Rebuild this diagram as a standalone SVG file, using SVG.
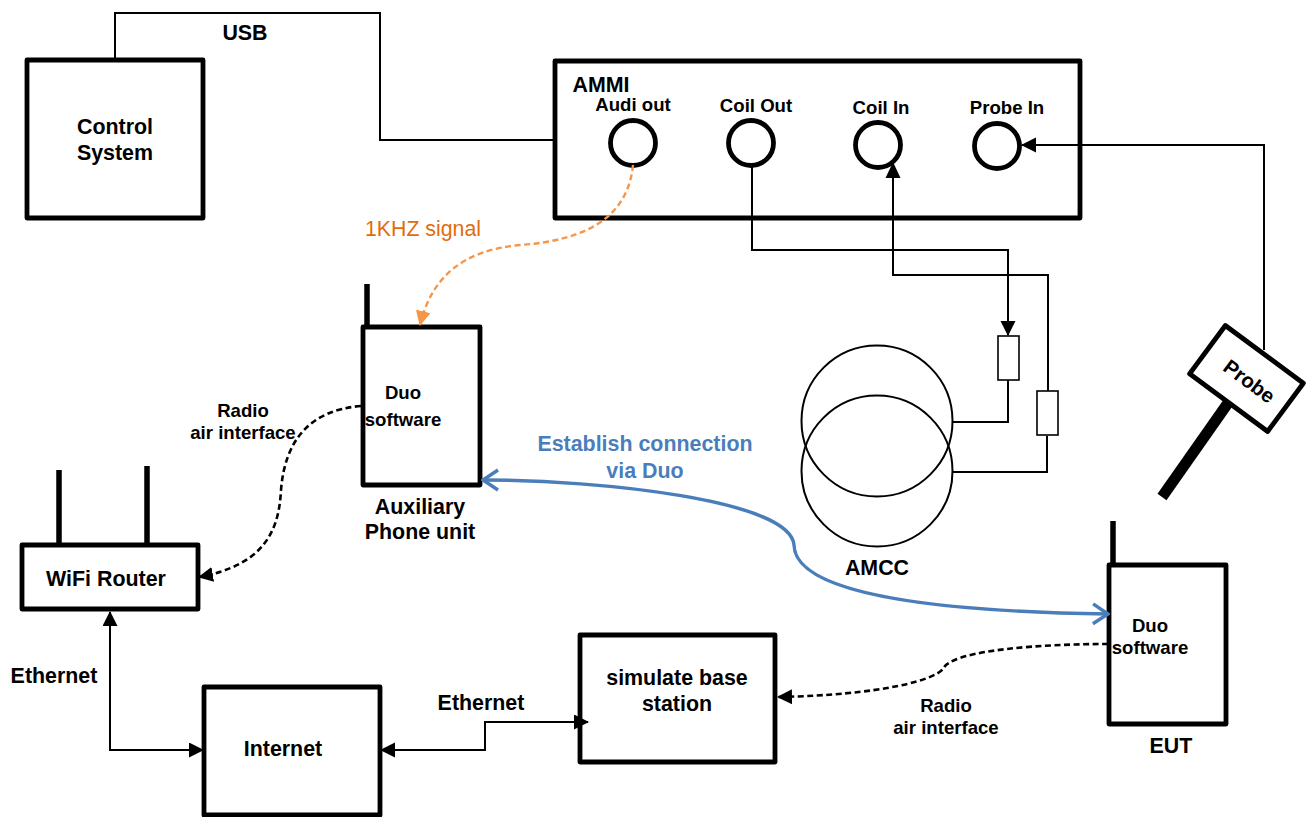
<svg xmlns="http://www.w3.org/2000/svg" width="1311" height="817" viewBox="0 0 1311 817">
<style>
text{font-family:"Liberation Sans",Arial,sans-serif;font-weight:bold;fill:#000;text-anchor:middle;transform:translateY(.7px)}
.t18{font-size:21.4px}.t16{font-size:18.6px}
.box{fill:#fff;stroke:#000;stroke-width:4.8;stroke-linejoin:round}
.port{fill:#fff;stroke:#000;stroke-width:4.8}
.ant{stroke:#000;stroke-width:5.5;fill:none}
.w{fill:none;stroke:#000;stroke-width:2}
.coil{fill:none;stroke:#000;stroke-width:2}
.res{fill:#fff;stroke:#000;stroke-width:1.6}
.dash{fill:none;stroke:#000;stroke-width:2.6;stroke-dasharray:6 3.5}
</style>
<defs>
<marker id="a" markerUnits="userSpaceOnUse" markerWidth="16" markerHeight="16" refX="14" refY="7.5" orient="auto-start-reverse"><path d="M0 0L15 7.500L0 15z" fill="#000"/></marker>
<marker id="o" markerUnits="userSpaceOnUse" markerWidth="16" markerHeight="16" refX="14" refY="7.5" orient="auto"><path d="M0 0L15 7.500L0 15z" fill="#f79646"/></marker>
<marker id="b" markerUnits="userSpaceOnUse" markerWidth="20" markerHeight="24" refX="18" refY="12" orient="auto-start-reverse"><path d="M3 2L18 12L3 22" fill="none" stroke="#4a7ebb" stroke-width="3.4"/></marker>
</defs>
<g id="control-system"><rect class="box" x="27" y="60" width="176" height="158"/><text class="t18" x="115" y="133">Control</text><text class="t18" x="115" y="159">System</text></g>
<text class="t18" x="245" y="39">USB</text>
<g id="ammi"><rect class="box" x="555" y="61" width="525" height="157"/><text class="t18" x="601" y="91">AMMI</text>
<text class="t16" x="633" y="110">Audi out</text><circle class="port" cx="633" cy="143" r="22.5"/>
<text class="t16" x="756" y="111">Coil Out</text><circle class="port" cx="751" cy="143" r="22.5"/>
<text class="t16" x="881" y="113">Coil In</text><circle class="port" cx="878" cy="145" r="22.5"/>
<text class="t16" x="1007" y="113">Probe In</text><circle class="port" cx="997" cy="146" r="22.5"/></g>
<text x="423" y="235" style="fill:#e36c0a;font-weight:normal;font-size:21.3px">1KHZ signal</text>
<g id="aux-phone"><path class="ant" d="M367 284V327"/><rect class="box" x="363" y="327" width="117" height="158"/><text class="t16" x="403" y="398">Duo</text><text class="t16" x="403" y="425">software</text><text class="t18" x="420" y="513">Auxiliary</text><text class="t18" x="420" y="538">Phone unit</text></g>
<text class="t16" x="243" y="416">Radio</text><text class="t16" x="243" y="438">air interface</text>
<g id="wifi-router"><path class="ant" d="M59 470V545M147 466V545"/><rect class="box" x="22" y="545" width="176" height="64"/><text class="t18" x="106" y="585">WiFi Router</text></g>
<text class="t18" x="54" y="682">Ethernet</text>
<g id="internet"><rect class="box" x="204" y="687" width="176" height="128"/><text class="t18" x="283" y="755">Internet</text></g>
<text class="t18" x="481" y="709">Ethernet</text>
<g id="base-station"><rect class="box" x="580" y="635" width="195" height="127"/><text class="t18" x="677" y="684">simulate base</text><text class="t18" x="677" y="710">station</text></g>
<text class="t16" x="946" y="711">Radio</text><text class="t16" x="946" y="733">air interface</text>
<g id="eut"><path class="ant" d="M1113 521V565"/><rect class="box" x="1109" y="565" width="117" height="159"/><text class="t16" x="1150" y="631">Duo</text><text class="t16" x="1150" y="653">software</text><text class="t18" x="1171" y="752">EUT</text></g>
<g id="amcc"><circle class="coil" cx="877" cy="421" r="75.500"/><circle class="coil" cx="877" cy="471" r="75.500"/><text class="t18" x="877" y="574">AMCC</text></g>
<g id="probe"><path d="M1162 497L1228 403" stroke="#000" stroke-width="11" fill="none"/><g transform="translate(1246.500 378.500) rotate(36.500)"><rect class="box" x="-48.500" y="-30" width="97" height="60"/><text x="4" y="7" style="font-size:20.5px">Probe</text></g></g>
<text x="645" y="450" style="fill:#4a7ebb;font-size:21.4px">Establish connection</text><text x="645" y="477" style="fill:#4a7ebb;font-size:21.4px">via Duo</text>
<g id="connectors">
<path class="w" d="M115 60V13H380V140H555"/>
<path class="w" d="M752 165V250H1008V335" marker-end="url(#a)"/>
<path class="w" d="M1008 380V422H952"/>
<path class="w" d="M893 163V275H1048V391"/>
<path d="M893 162l-7.500 16h15z"/>
<path class="w" d="M1047 436V472H952"/>
<path class="w" d="M1264 350V145H1022" marker-end="url(#a)"/>
<path d="M633 165C628 215 590 240 520 245C465 250 432 275 420 325" fill="none" stroke="#f79646" stroke-width="2.4" stroke-dasharray="6 3.500" marker-end="url(#o)"/>
<path class="dash" d="M361 406C310 410 285 440 281 490C279 530 265 565 199 577" marker-end="url(#a)"/>
<path class="dash" d="M1108 644C1040 644 960 650 945 666C940 680 880 695 778 697" marker-end="url(#a)"/>
<path d="M483 480C600 480 790 500 794 545C795 600 970 612 1108 614" fill="none" stroke="#4a7ebb" stroke-width="3.400" marker-start="url(#b)" marker-end="url(#b)"/>
<path class="w" d="M110 612V750H203" marker-start="url(#a)" marker-end="url(#a)"/>
<path class="w" d="M381 750H485V722H588" marker-start="url(#a)" marker-end="url(#a)"/>
</g>
<g id="resistors"><rect class="res" x="998" y="336" width="21" height="44"/><rect class="res" x="1037" y="391" width="21" height="44"/></g>
</svg>
